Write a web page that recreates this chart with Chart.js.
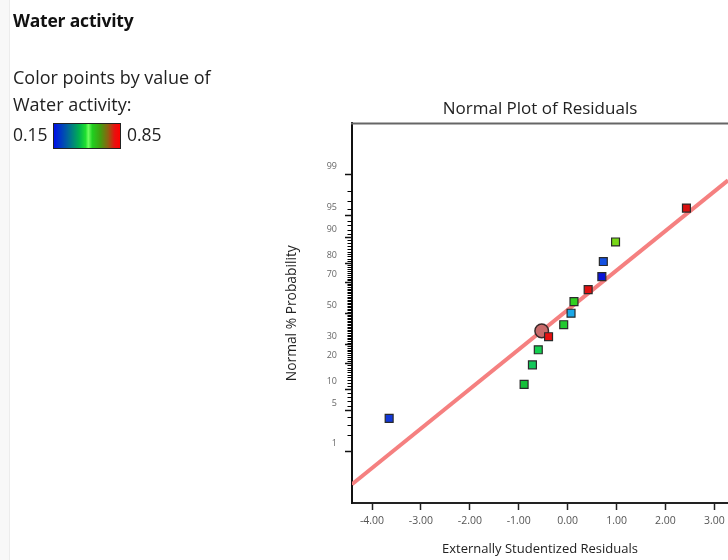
<!DOCTYPE html>
<html>
<head>
<meta charset="utf-8">
<script src="https://cdn.jsdelivr.net/npm/chart.js@4.4.1/dist/chart.umd.min.js"></script>
<style>
  html, body { margin: 0; padding: 0; background: #fff; }
  #wrap { position: relative; width: 728px; height: 560px; overflow: hidden; background: #fff; font-family: "Open Sans", "Noto Sans", sans-serif; }
  #strip { position: absolute; left: 0; top: 0; width: 9px; height: 560px; background: #f8f8f8; border-right: 1px solid #ececec; }
  #c { position: absolute; left: 0; top: 0; }
  .t { position: absolute; color: #222; white-space: nowrap; line-height: 24px; }
  #h { left: 13px; top: 8px; font-size: 17.5px; font-weight: 700; color: #111; letter-spacing: -0.2px; }
  #l1 { left: 13px; top: 65px; font-size: 18px; }
  #l2 { left: 13px; top: 92px; font-size: 18px; }
  #lo { left: 13px; top: 122px; font-size: 17.5px; }
  #hi { left: 127px; top: 122px; font-size: 17.5px; }
  #bar { position: absolute; left: 53px; top: 123px; width: 66px; height: 24px; border: 1px solid #222;
         background: linear-gradient(to right, #0010e8 0%, #0060a0 20%, #00b050 38%, #20e030 48%, #70ff60 52%, #20d020 58%, #40a010 70%, #906010 82%, #e81010 92%, #ff0000 100%); }
</style>
</head>
<body>
<div id="wrap">
  <div id="strip"></div>
  <canvas id="c" width="728" height="560"></canvas>
  <div class="t" id="h">Water activity</div>
  <div class="t" id="l1">Color points by value of</div>
  <div class="t" id="l2">Water activity:</div>
  <div class="t" id="lo">0.15</div>
  <div id="bar"></div>
  <div class="t" id="hi">0.85</div>
</div>
<script>
// ---- data ----
const residuals = [-3.65, -0.89, -0.72, -0.60, -0.39, -0.08, 0.07, 0.13, 0.42, 0.70, 0.73, 0.98, 2.43];
const probabilityPct = [3.85, 11.54, 19.23, 26.92, 34.62, 42.31, 50.0, 57.69, 65.38, 73.08, 80.77, 88.46, 96.15];
const pointColors = ['#1238d8', '#16c03a', '#14c85a', '#14d050', '#e81010', '#22c830', '#1aa8e8', '#30d020', '#e01010', '#0a14d8', '#1450e0', '#78d818', '#d81010'];
const highlightX = [-0.53];
const highlightPct = [38.3];
const fitLineX = [-4.41, 3.28];
const fitLinePct = [0.20, 98.73];
const xTickValues = [-4, -3, -2, -1, 0, 1, 2, 3];
const yMajorPct = [1, 5, 10, 20, 30, 50, 70, 80, 90, 95, 99];
const yMinorPct = [2, 3, 4, 6, 7, 8, 9, 11, 12, 13, 14, 15, 16, 17, 18, 19, 21, 22, 23, 24, 25, 26, 27, 28, 29,
  31, 32, 33, 34, 35, 36, 37, 38, 39, 40, 41, 42, 43, 44, 45, 46, 47, 48, 49, 51, 52, 53, 54, 55, 56, 57, 58, 59, 60,
  61, 62, 63, 64, 65, 66, 67, 68, 69, 71, 72, 73, 74, 75, 76, 77, 78, 79, 81, 82, 83, 84, 85, 86, 87, 88, 89,
  91, 92, 93, 94, 96, 97, 98];

// inverse standard normal (Acklam) to map probability to the normal scale
function probit(p) {
  const a = [-3.969683028665376e+01, 2.209460984245205e+02, -2.759285104469687e+02, 1.383577518672690e+02, -3.066479806614716e+01, 2.506628277459239e+00];
  const b = [-5.447609879822406e+01, 1.615858368580409e+02, -1.556989798598866e+02, 6.680131188771972e+01, -1.328068155288572e+01];
  const c = [-7.784894002430293e-03, -3.223964580411365e-01, -2.400758277161838e+00, -2.549732539343734e+00, 4.374664141464968e+00, 2.938163982698783e+00];
  const d = [7.784695709041462e-03, 3.224671290700398e-01, 2.445134137142996e+00, 3.754408661907416e+00];
  const pl = 0.02425, ph = 1 - pl;
  let q, r;
  if (p < pl) {
    q = Math.sqrt(-2 * Math.log(p));
    return (((((c[0]*q+c[1])*q+c[2])*q+c[3])*q+c[4])*q+c[5]) / ((((d[0]*q+d[1])*q+d[2])*q+d[3])*q+1);
  }
  if (p <= ph) {
    q = p - 0.5; r = q * q;
    return (((((a[0]*r+a[1])*r+a[2])*r+a[3])*r+a[4])*r+a[5])*q / (((((b[0]*r+b[1])*r+b[2])*r+b[3])*r+b[4])*r+1);
  }
  q = Math.sqrt(-2 * Math.log(1 - p));
  return -(((((c[0]*q+c[1])*q+c[2])*q+c[3])*q+c[4])*q+c[5]) / ((((d[0]*q+d[1])*q+d[2])*q+d[3])*q+1);
}
const z = pct => probit(pct / 100);

const pts = residuals.map((x, i) => ({ x: x, y: z(probabilityPct[i]) }));
const hl = highlightX.map((x, i) => ({ x: x, y: z(highlightPct[i]) }));
const fit = fitLineX.map((x, i) => ({ x: x, y: z(fitLinePct[i]) }));

Chart.defaults.font.family = '"Open Sans", "Noto Sans", sans-serif';
Chart.defaults.color = '#444';

const framePlugin = {
  id: 'frame',
  afterDraw(chart) {
    const ctx = chart.ctx, a = chart.chartArea, ys = chart.scales.y;
    ctx.save();
    ctx.strokeStyle = '#000';
    ctx.lineWidth = 1;
    ctx.beginPath();
    yMinorPct.forEach(p => {
      const y = Math.round(ys.getPixelForValue(z(p))) + 0.5;
      ctx.moveTo(a.left - 4.5, y);
      ctx.lineTo(a.left, y);
    });
    ctx.stroke();
    ctx.strokeStyle = '#666';
    ctx.lineWidth = 2;
    ctx.beginPath();
    ctx.moveTo(a.left - 1, a.top);
    ctx.lineTo(a.right, a.top);
    ctx.stroke();
    ctx.restore();
  }
};

new Chart(document.getElementById('c'), {
  type: 'scatter',
  data: {
    datasets: [
      {
        data: pts,
        pointStyle: 'rect',
        pointRadius: 5.6,
        pointHoverRadius: 5.6,
        backgroundColor: pointColors,
        borderColor: '#2a2a2a',
        borderWidth: 1.2
      },
      {
        data: hl,
        pointStyle: 'circle',
        pointRadius: 6.8,
        backgroundColor: '#c86a6a',
        borderColor: '#3a2a2a',
        borderWidth: 1.5
      },
      {
        type: 'line',
        data: fit,
        showLine: true,
        borderColor: '#f58080',
        borderWidth: 4,
        pointRadius: 0,
        fill: false
      }
    ]
  },
  plugins: [framePlugin],
  options: {
    responsive: false,
    animation: false,
    events: [],
    layout: { autoPadding: false, padding: { left: 280, top: 99, right: 0, bottom: 0 } },
    plugins: {
      legend: { display: false },
      tooltip: { enabled: false },
      title: {
        display: true,
        text: 'Normal Plot of Residuals',
        fullSize: false,
        color: '#222',
        font: { size: 17, weight: 'normal' },
        padding: { top: 0, bottom: 4 }
      }
    },
    scales: {
      x: {
        type: 'linear',
        min: -4.41,
        max: 3.28,
        afterBuildTicks: s => { s.ticks = xTickValues.map(v => ({ value: v })); },
        afterFit: s => { s.height = 57; s.paddingLeft = 0; s.paddingRight = 0; },
        border: { display: true, color: '#222', width: 2 },
        grid: { drawOnChartArea: false, drawTicks: true, tickLength: 7, color: '#222', tickWidth: 1.5 },
        ticks: {
          autoSkip: false, maxRotation: 0, padding: 5, color: '#555',
          font: { size: 10.5 },
          callback: v => v.toFixed(2)
        },
        title: {
          display: true, text: 'Externally Studentized Residuals', color: '#222',
          font: { size: 13 }, padding: { top: 0, bottom: 3 }
        }
      },
      y: {
        type: 'linear',
        min: -3.193,
        max: 3.193,
        afterBuildTicks: s => { s.ticks = yMajorPct.map(p => ({ value: z(p) })); },
        afterFit: s => { s.width = 72; s.paddingTop = 0; s.paddingBottom = 0; },
        border: { display: true, color: '#111', width: 2 },
        grid: { drawOnChartArea: false, drawTicks: true, tickLength: 7, color: '#111', tickWidth: 1.5 },
        ticks: {
          autoSkip: false, padding: 8, labelOffset: -8, color: '#666',
          font: { size: 9 },
          callback: (v, i) => String(yMajorPct[i])
        },
        title: {
          display: true, text: 'Normal % Probability', color: '#222',
          font: { size: 13.8 }, padding: { top: 4, bottom: 0 }
        }
      }
    }
  }
});
</script>
</body>
</html>
